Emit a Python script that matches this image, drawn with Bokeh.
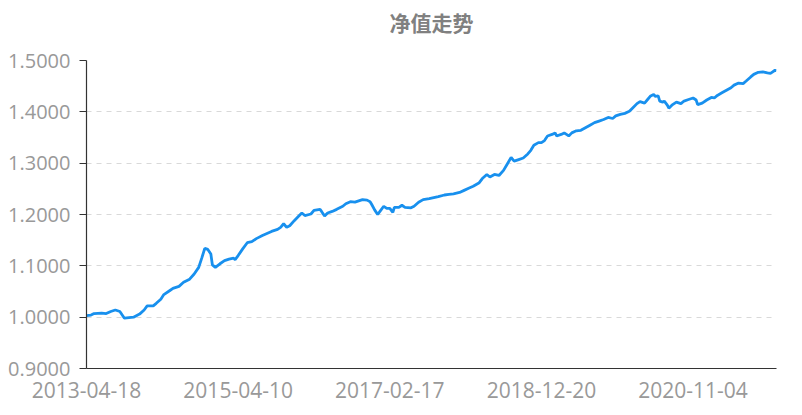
from bokeh.plotting import figure
from bokeh.models import Range1d, FixedTicker, NumeralTickFormatter, LinearAxis
from bokeh.embed import file_html
from bokeh.resources import INLINE

# category (week) index of each sampled point
week_index = [0, 3, 5, 10, 13, 16, 19, 22, 25, 28, 31, 35, 38, 40, 44, 46, 49, 51, 55, 57,
              61, 64, 68, 71, 74, 76, 78, 80, 82, 83, 85, 88, 91, 94, 97, 98, 100, 103, 106, 109,
              112, 116, 119, 122, 126, 128, 130, 132, 134, 137, 140, 142, 144, 148, 150, 154, 155, 157, 159, 162,
              165, 169, 171, 174, 177, 180, 182, 185, 187, 188, 190, 192, 194, 196, 198, 200, 202, 203, 206, 208,
              210, 214, 216, 219, 222, 226, 229, 232, 236, 239, 242, 246, 249, 252, 255, 259, 261, 264, 266, 269,
              272, 275, 277, 280, 282, 285, 288, 291, 293, 295, 298, 300, 302, 304, 307, 309, 310, 313, 315, 318,
              320, 323, 326, 329, 332, 335, 338, 341, 344, 347, 349, 352, 355, 358, 360, 363, 365, 368, 370, 372,
              374, 375, 377, 378, 380, 381, 383, 384, 386, 389, 392, 394, 397, 400, 402, 403, 406, 409, 412, 414,
              416, 419, 422, 425, 427, 430, 433, 435, 438, 440, 443, 446, 449, 451, 452, 454, 455]

nav = [1.003, 1.004, 1.007, 1.008, 1.007, 1.011, 1.014, 1.011, 0.998, 0.999, 1.000, 1.006, 1.014, 1.022, 1.022, 1.027, 1.035, 1.044, 1.052, 1.056,
       1.060, 1.068, 1.074, 1.084, 1.097, 1.115, 1.134, 1.132, 1.123, 1.102, 1.097, 1.104, 1.110, 1.113, 1.115, 1.112, 1.120, 1.133, 1.145, 1.147,
       1.153, 1.159, 1.163, 1.167, 1.171, 1.175, 1.182, 1.175, 1.178, 1.188, 1.197, 1.203, 1.198, 1.201, 1.208, 1.210, 1.206, 1.197, 1.203, 1.206,
       1.210, 1.216, 1.221, 1.225, 1.224, 1.227, 1.229, 1.228, 1.225, 1.220, 1.209, 1.200, 1.208, 1.216, 1.212, 1.212, 1.204, 1.214, 1.214, 1.218,
       1.214, 1.213, 1.216, 1.224, 1.229, 1.231, 1.233, 1.235, 1.238, 1.239, 1.240, 1.243, 1.247, 1.251, 1.255, 1.262, 1.270, 1.278, 1.273, 1.278,
       1.276, 1.286, 1.296, 1.311, 1.304, 1.307, 1.310, 1.318, 1.325, 1.335, 1.340, 1.340, 1.344, 1.353, 1.356, 1.359, 1.353, 1.356, 1.359, 1.353,
       1.359, 1.363, 1.364, 1.369, 1.374, 1.379, 1.382, 1.385, 1.389, 1.387, 1.392, 1.395, 1.397, 1.401, 1.407, 1.416, 1.420, 1.417, 1.424, 1.431,
       1.434, 1.430, 1.431, 1.421, 1.419, 1.421, 1.413, 1.407, 1.413, 1.419, 1.416, 1.421, 1.424, 1.427, 1.423, 1.414, 1.417, 1.423, 1.428, 1.427,
       1.432, 1.437, 1.442, 1.447, 1.452, 1.456, 1.455, 1.460, 1.468, 1.473, 1.477, 1.478, 1.476, 1.475, 1.477, 1.481, 1.480]

x_tick_index = [0, 100, 200, 300, 400]
x_tick_labels = ["2013-04-18", "2015-04-10", "2017-02-17", "2018-12-20", "2020-11-04"]
y_ticks = [0.9, 1.0, 1.1, 1.2, 1.3, 1.4, 1.5]
n_categories = 455
title_text = "净值走势"

p = figure(width=802, height=415, output_backend="svg", toolbar_location=None,
           x_range=Range1d(0, n_categories), y_range=Range1d(0.9, 1.5),
           min_border_left=86, min_border_right=26, min_border_top=60, min_border_bottom=47)

p.title.visible = False

# chart title drawn as the label of a bare axis above the plot area (centred on it)
title_axis = LinearAxis(ticker=FixedTicker(ticks=[]), axis_label=title_text)
title_axis.axis_line_color = None
title_axis.major_tick_line_color = None
title_axis.minor_tick_line_color = None
title_axis.major_label_text_font_size = "0px"
title_axis.axis_label_text_font = "Noto Sans CJK SC"
title_axis.axis_label_text_font_size = "21px"
title_axis.axis_label_text_font_style = "bold"
title_axis.axis_label_text_color = "#808080"
title_axis.axis_label_standoff = 24
p.add_layout(title_axis, "above")

p.outline_line_color = None
p.background_fill_color = "white"

p.line(week_index, nav, line_color="#1890ee", line_width=2.8)

p.xgrid.grid_line_color = None
p.ygrid.grid_line_color = "#d9d9d9"
p.ygrid.grid_line_dash = "5 5"
p.ygrid.grid_line_width = 1

xaxis = p.below[0]
xaxis.ticker = FixedTicker(ticks=x_tick_index)
xaxis.major_label_overrides = {i: l for i, l in zip(x_tick_index, x_tick_labels)}
xaxis.major_tick_out = 0
xaxis.major_tick_in = 0
xaxis.minor_tick_line_color = None
xaxis.axis_line_color = "#333333"
xaxis.axis_line_width = 1.2
xaxis.major_label_text_font = "Open Sans"
xaxis.major_label_text_font_size = "21px"
xaxis.major_label_text_color = "#999999"
xaxis.major_label_standoff = 13

p.yaxis.ticker = FixedTicker(ticks=y_ticks)
p.yaxis.formatter = NumeralTickFormatter(format="0.0000")
p.yaxis.major_tick_out = 7
p.yaxis.major_tick_in = 0
p.yaxis.major_tick_line_color = "#333333"
p.yaxis.minor_tick_line_color = None
p.yaxis.axis_line_color = "#333333"
p.yaxis.axis_line_width = 1.2
p.yaxis.major_label_text_font = "Open Sans"
p.yaxis.major_label_text_font_size = "20px"
p.yaxis.major_label_text_color = "#999999"
p.yaxis.major_label_standoff = 9

open("out.html", "w").write(file_html(p, INLINE))
